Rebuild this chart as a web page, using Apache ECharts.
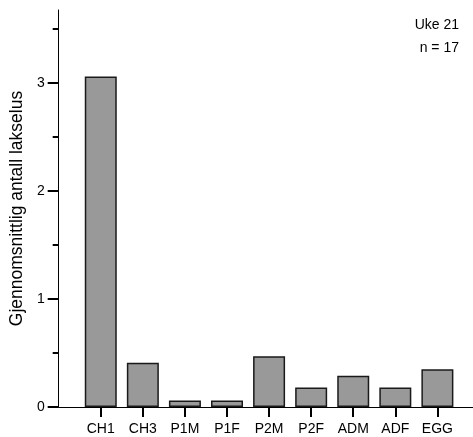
<!DOCTYPE html>
<html>
<head>
<meta charset="utf-8">
<script src="https://cdn.jsdelivr.net/npm/echarts@6/dist/echarts.min.js"></script>
<style>html,body{margin:0;padding:0;background:#fff}#c{width:473px;height:437px}</style>
</head>
<body>
<div id="c"></div>
<script>
const categories = ['CH1', 'CH3', 'P1M', 'P1F', 'P2M', 'P2F', 'ADM', 'ADF', 'EGG'];
const values = [3.06, 0.41, 0.06, 0.06, 0.47, 0.18, 0.29, 0.18, 0.35];
const yTicks = [0, 1, 2, 3];
const yMinorTicks = [0.5, 1.5, 2.5, 3.5];
const yAxisTitle = 'Gjennomsnittlig antall lakselus';
const infoText = 'Uke 21\nn = 17';

const FONT = '"Liberation Sans", Arial, sans-serif';
const chart = echarts.init(document.getElementById('c'), null, {renderer: 'canvas'});
const catIdx = categories.map((_, i) => i);

chart.setOption({
  animation: false,
  backgroundColor: '#ffffff',
  title: {
    text: infoText,
    left: 454,
    top: 9,
    textAlign: 'right',
    textStyle: {fontFamily: FONT, fontSize: 14, fontWeight: 'normal', color: '#000', lineHeight: 23, align: 'right'}
  },
  grid: {left: 57, right: 0, top: 10, bottom: 30, containLabel: false},
  xAxis: {
    type: 'value',
    min: -1,
    max: 8.846,
    splitLine: {show: false},
    axisLine: {show: true, onZero: false, lineStyle: {color: '#000', width: 1}},
    axisTick: {show: true, customValues: catIdx, length: 10, lineStyle: {color: '#000', width: 2}},
    axisLabel: {
      customValues: catIdx,
      formatter: v => categories[Math.round(v)] || '',
      margin: 15,
      fontFamily: FONT, fontSize: 14, color: '#000'
    }
  },
  yAxis: [
    {
      type: 'value',
      min: 0,
      max: 3.676,
      name: yAxisTitle,
      nameLocation: 'middle',
      nameGap: 30,
      nameTextStyle: {fontFamily: FONT, fontSize: 17.5, color: '#000'},
      splitLine: {show: false},
      axisLine: {show: true, onZero: false, lineStyle: {color: '#000', width: 1}},
      axisTick: {show: true, customValues: yTicks, length: 11, lineStyle: {color: '#000', width: 2}},
      axisLabel: {customValues: yTicks, margin: 14, fontFamily: FONT, fontSize: 14, color: '#000'}
    },
    {
      type: 'value',
      min: 0,
      max: 3.676,
      position: 'left',
      splitLine: {show: false},
      axisLine: {show: false, onZero: false},
      axisTick: {show: true, customValues: yMinorTicks, length: 6, lineStyle: {color: '#000', width: 2}},
      axisLabel: {show: false}
    }
  ],
  series: [{
    type: 'bar',
    yAxisIndex: 0,
    barWidth: 32,
    data: values.map((v, i) => [i, v]),
    itemStyle: {color: '#999999', borderColor: '#1a1a1a', borderWidth: 1.5}
  }]
});
</script>
</body>
</html>
